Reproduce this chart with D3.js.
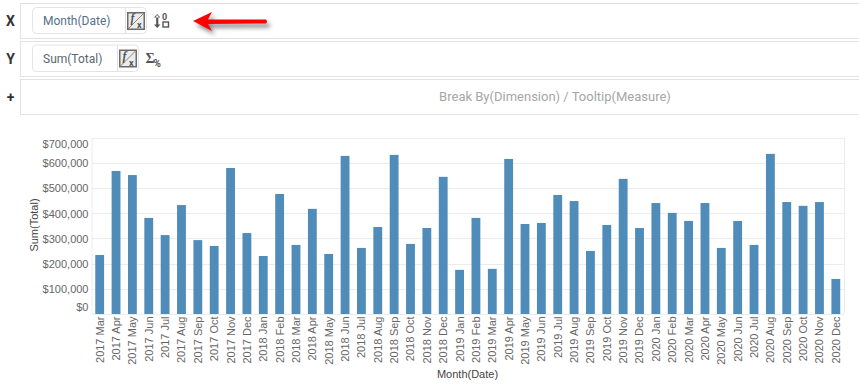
<!DOCTYPE html>
<html><head><meta charset="utf-8">
<script src="https://cdn.jsdelivr.net/npm/d3@7"></script>
<style>html,body{margin:0;padding:0;background:#fff;overflow:hidden}svg{display:block}</style>
</head><body><svg id="c" width="859" height="385"></svg>
<script>
const months = ["2017 Mar","2017 Apr","2017 May","2017 Jun","2017 Jul","2017 Aug","2017 Sep","2017 Oct","2017 Nov","2017 Dec",
"2018 Jan","2018 Feb","2018 Mar","2018 Apr","2018 May","2018 Jun","2018 Jul","2018 Aug","2018 Sep","2018 Oct","2018 Nov","2018 Dec",
"2019 Jan","2019 Feb","2019 Mar","2019 Apr","2019 May","2019 Jun","2019 Jul","2019 Aug","2019 Sep","2019 Oct","2019 Nov","2019 Dec",
"2020 Jan","2020 Feb","2020 Mar","2020 Apr","2020 May","2020 Jun","2020 Jul","2020 Aug","2020 Sep","2020 Oct","2020 Nov","2020 Dec"];
const totals = [234000,567000,551000,381000,313000,432000,293000,270000,579000,321000,
230000,476000,274000,417000,238000,627000,262000,345000,631000,278000,341000,544000,
175000,381000,179000,615000,357000,361000,472000,448000,250000,353000,536000,341000,
440000,401000,369000,440000,262000,369000,274000,635000,444000,429000,444000,139000];
const yTicks = [0,100000,200000,300000,400000,500000,600000,700000];
const shelfRows = ["X","Y","+"];
const pills = ["Month(Date)","Sum(Total)"];

const svg = d3.select("#c");
const font = "Roboto, sans-serif", chartFont = "'Liberation Sans', Arial, sans-serif";
const defs = svg.append("defs");
const blur = defs.append("filter").attr("id","sh").attr("x","-20%").attr("y","-60%").attr("width","140%").attr("height","220%");
blur.append("feGaussianBlur").attr("stdDeviation",2);

// shelves
const rowY = [3,41,79];
shelfRows.forEach((r,i)=>{
  svg.append("rect").attr("x",20.5).attr("y",rowY[i]+.5).attr("width",860).attr("height",35)
    .attr("fill","#fff").attr("stroke","#e2e2e2").attr("stroke-width",1);
  svg.append("text").attr("x",10.5).attr("y",rowY[i]+17.5).attr("dy","0.36em").attr("text-anchor","middle")
    .attr("font-family",font).attr("font-weight",700).attr("font-size",14).attr("fill","#333").text(r);
});
const pillGeom = [{x:32,y:8,w:114,h:26,div:125},{x:32,y:45.5,w:106,h:26.5,div:117}];
pills.forEach((t,i)=>{
  const g=pillGeom[i];
  svg.append("rect").attr("x",g.x+.5).attr("y",g.y-.5).attr("width",g.w).attr("height",g.h).attr("rx",4)
    .attr("fill","#fff").attr("stroke","#e4e4e4");
  svg.append("line").attr("x1",g.div+.5).attr("x2",g.div+.5).attr("y1",g.y).attr("y2",g.y+g.h-1).attr("stroke","#e0e0e0");
  svg.append("text").attr("x",43).attr("y",g.y+13).attr("dy","0.36em").attr("font-family",font)
    .attr("font-size",12).attr("fill",i==0?"#56708a":"#5c6670").text(t);
  // f/x icon
  const ix=g.div+2, iy=g.y+4;
  const ic=svg.append("g").attr("transform",`translate(${ix},${iy})`);
  ic.append("rect").attr("x",.75).attr("y",.75).attr("width",16.5).attr("height",16.5).attr("fill","#e6edf3").attr("stroke","#6b6b6b").attr("stroke-width",1.5);
  ic.append("line").attr("x1",1).attr("y1",17).attr("x2",17).attr("y2",1).attr("stroke","#b5793c").attr("stroke-width",1);
  ic.append("text").attr("x",3.5).attr("y",10).attr("font-family","'Liberation Serif',serif").attr("font-style","italic").attr("font-weight",700).attr("font-size",12).attr("fill","#555").text("f");
  ic.append("text").attr("x",10).attr("y",16).attr("font-family",font).attr("font-weight",700).attr("font-size",9).attr("fill","#555").text("x");
});
// sort icon
const s=svg.append("g").attr("fill","#555").attr("stroke","none");
s.append("path").attr("d","M156.2 15.5h2.1v10.5h-2.1z M157.2 14l-3.2 3.6h6.4z M157.2 28l-3.2 -3.6h6.4z");
s.append("text").attr("x",162).attr("y",20).attr("font-family",font).attr("font-weight",700).attr("font-size",9).text("0");
svg.append("rect").attr("x",163).attr("y",22).attr("width",5.5).attr("height",5).attr("fill","none").attr("stroke","#555").attr("stroke-width",1.4);
// sigma percent
svg.append("text").attr("x",145.5).attr("y",63).attr("font-family","'Liberation Serif',serif").attr("font-weight",700).attr("font-size",14).attr("fill","#555").text("Σ");
svg.append("text").attr("x",153.5).attr("y",66.5).attr("font-family",font).attr("font-weight",700).attr("font-size",10).attr("fill","#555").text("%");
svg.append("text").attr("x",555).attr("y",96).attr("dy","0.36em").attr("text-anchor","middle").attr("font-family",font)
  .attr("font-size",13).attr("fill","#a6a6a6").text("Break By(Dimension) / Tooltip(Measure)");

// arrow
const arrow = d3.path();
arrow.moveTo(193,21); arrow.lineTo(212,12); arrow.lineTo(208,19.5); arrow.lineTo(266,19.5);
arrow.quadraticCurveTo(268,21.5,266,23.5); arrow.lineTo(208,24); arrow.lineTo(212,31); arrow.closePath();
svg.append("path").attr("d",arrow.toString()).attr("fill","#666").attr("opacity",.75).attr("filter","url(#sh)").attr("transform","translate(3,4)");
svg.append("path").attr("d",arrow.toString()).attr("fill","#f00");

// chart
const L=91.5,R=844,T=137.5,B=314;
const x=d3.scaleBand().domain(months).range([L,R]).paddingInner(0.46).paddingOuter(0.23);
const y=d3.scaleLinear().domain([0,700000]).range([B,T]);
svg.append("g").selectAll("line").data(yTicks).join("line")
  .attr("x1",L).attr("x2",R).attr("y1",d=>Math.round(y(d))+.5).attr("y2",d=>Math.round(y(d))+.5)
  .attr("stroke","#ececec");
svg.append("line").attr("x1",L+.5).attr("x2",L+.5).attr("y1",T).attr("y2",B).attr("stroke","#ececec");
svg.append("line").attr("x1",R+.5).attr("x2",R+.5).attr("y1",T).attr("y2",B).attr("stroke","#ececec");
svg.append("g").selectAll("rect").data(totals).join("rect")
  .attr("x",(d,i)=>x(months[i])).attr("width",x.bandwidth()).attr("y",d=>y(d)).attr("height",d=>B-y(d)).attr("fill","#4f8cb9");

const money=d3.format("$,.0f");
svg.append("g").selectAll("text").data(yTicks).join("text")
  .attr("x",88.5).attr("text-anchor","end").attr("font-family",chartFont).attr("font-size",11).attr("fill","#666")
  .attr("y",d=>y(d)+(d===0?-7:d===700000?6.5:0.5)).attr("dy","0.36em").text(d=>money(d));
svg.append("g").selectAll("text").data(months).join("text")
  .attr("font-family",chartFont).attr("font-size",11).attr("fill","#666").attr("text-anchor","end")
  .attr("transform",d=>`translate(${x(d)+x.bandwidth()/2},316.5) rotate(-90)`).attr("dy","0.36em").text(d=>d);
svg.append("text").attr("transform","translate(34.5,225) rotate(-90)").attr("text-anchor","middle").attr("dy","0.36em")
  .attr("font-family",chartFont).attr("font-size",11).attr("fill","#444").text("Sum(Total)");
svg.append("text").attr("x",467.5).attr("y",374).attr("text-anchor","middle").attr("dy","0.36em")
  .attr("font-family",chartFont).attr("font-size",11).attr("fill","#444").text("Month(Date)");
</script></body></html>
